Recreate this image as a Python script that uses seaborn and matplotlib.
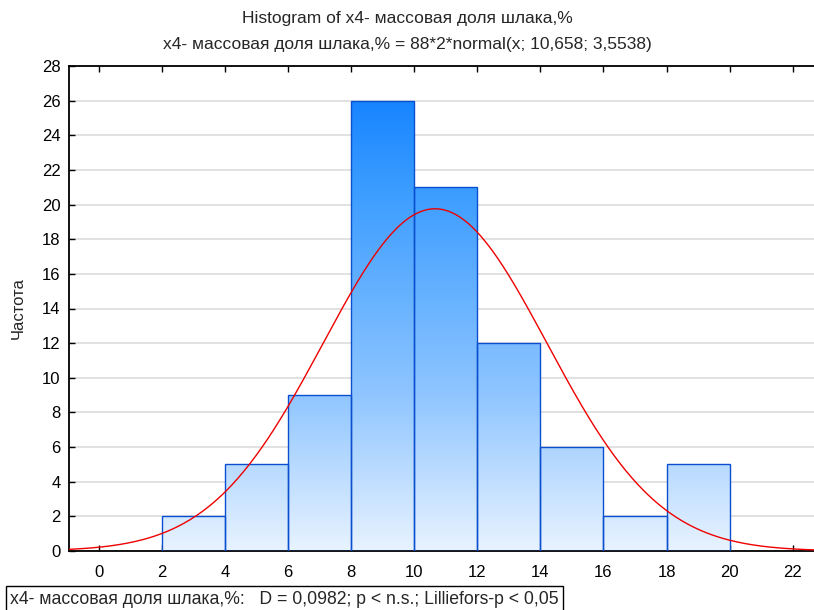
import numpy as np
import pandas as pd
import matplotlib
matplotlib.use("Agg")
import matplotlib.pyplot as plt
from matplotlib import font_manager
from matplotlib.colors import LinearSegmentedColormap
import seaborn as sns

# Data
bin_edges = [2, 4, 6, 8, 10, 12, 14, 16, 18, 20]
counts = [2, 5, 9, 26, 21, 12, 6, 2, 5]
n_total = 88
bin_width = 2
mu = 10.658
sigma = 3.5538
x_ticks = list(range(0, 23, 2))
y_ticks = list(range(0, 29, 2))
title_lines = ["Histogram of x4- массовая доля шлака,%",
               "x4- массовая доля шлака,% = 88*2*normal(x; 10,658; 3,5538)"]
ylabel = "Частота"
stats_text = "x4- массовая доля шлака,%:   D = 0,0982; p < n.s.; Lilliefors-p < 0,05"

sns.set_theme(style="white")
names = {f.name for f in font_manager.fontManager.ttflist}
fam = "Liberation Sans Narrow" if "Liberation Sans Narrow" in names else "Liberation Sans"
plt.rcParams["font.family"] = [fam, "DejaVu Sans"]

fig = plt.figure(figsize=(8.14, 6.10), dpi=100)
ax = fig.add_axes([69/814, 1-551/610, 1-69/814 + 0.002, (551-66)/610])

centers = [(a + b) / 2 for a, b in zip(bin_edges[:-1], bin_edges[1:])]
df = pd.DataFrame({"x": centers, "w": counts})
sns.histplot(data=df, x="x", weights="w", bins=bin_edges, ax=ax,
             color="none", edgecolor="#0a4fd0", linewidth=1.0, zorder=3)

# gradient fill clipped to each bar
cmap = LinearSegmentedColormap.from_list(
    "g", [(0.0, "#e8f3ff"), (0.35, "#8ec5ff"), (0.81, "#3a9cff"), (1.0, "#1784ff")])
xmin, xmax = -0.954, 22.73
grad = np.linspace(0, 1, 256).reshape(-1, 1)
for p in list(ax.patches):
    p.set_facecolor("none")
    im = ax.imshow(grad, cmap=cmap, origin="lower", aspect="auto",
                   extent=[xmin, xmax, 0, 26], zorder=2, interpolation="bicubic")
    im.set_clip_path(p)

xs = np.linspace(xmin, xmax, 500)
ys = n_total * bin_width * np.exp(-0.5 * ((xs - mu) / sigma) ** 2) / (sigma * np.sqrt(2 * np.pi))
sns.lineplot(x=xs, y=ys, ax=ax, color="#ee0000", linewidth=1.0, zorder=4)

ax.set_xlim(xmin, xmax)
ax.set_ylim(0, 28)
ax.set_xticks(x_ticks)
ax.set_yticks(y_ticks)
ax.yaxis.grid(True, color="#dcdcdc", linewidth=1.2, zorder=0)
ax.set_axisbelow(True)
for s in ["left", "top", "bottom"]:
    ax.spines[s].set_color("black")
    ax.spines[s].set_linewidth(1.3)
ax.spines["right"].set_visible(False)
ax.tick_params(axis="both", direction="in", length=4, width=1, colors="black",
               labelsize=12, pad=6, top=True, bottom=True, left=True)
ax.tick_params(axis="x", pad=10)
ax.set_xlabel("")
ax.set_ylabel(ylabel, fontsize=12, labelpad=12)

fig.text(0.5, 1-18/610, title_lines[0], ha="center", va="center", fontsize=12.5)
fig.text(0.5, 1-44/610, title_lines[1], ha="center", va="center", fontsize=12.5)

fig.text(10/814, 1-599/610, stats_text, ha="left", va="center", fontsize=12.7,
         bbox=dict(boxstyle="square,pad=0.25", facecolor="white", edgecolor="black", linewidth=1))

fig.savefig("out.png", dpi=100)
